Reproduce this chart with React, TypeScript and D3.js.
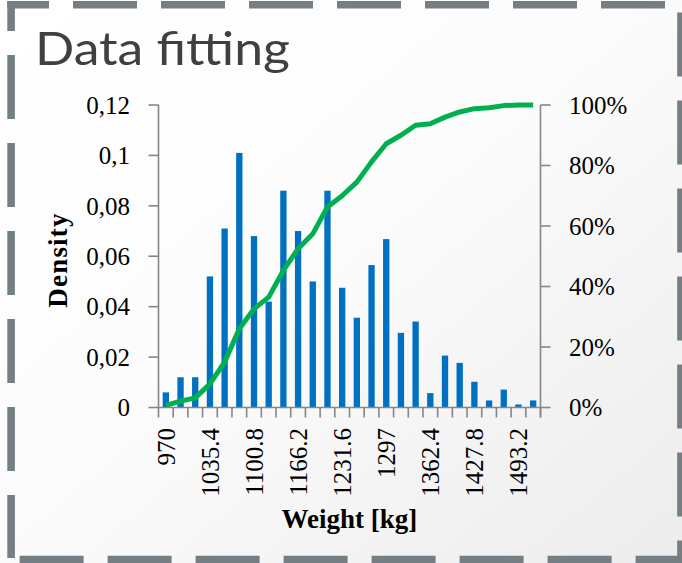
import React from 'react';
import * as d3 from 'd3';

// Bin starts (kg) — every third one is printed on the axis.
const binLabels = [
  '970', '991.8', '1013.6', '1035.4', '1057.2', '1079', '1100.8', '1122.6', '1144.4',
  '1166.2', '1188', '1209.8', '1231.6', '1253.4', '1275.2', '1297', '1318.8', '1340.6',
  '1362.4', '1384.2', '1406', '1427.8', '1449.6', '1471.4', '1493.2', '1515',
];

// Relative frequency per bin (left axis).
const density = [
  0.006, 0.012, 0.012, 0.052, 0.071, 0.101, 0.068, 0.042, 0.086, 0.070, 0.050, 0.086, 0.0475,
  0.0356, 0.0565, 0.0668, 0.0296, 0.0341, 0.0057, 0.0206, 0.0177, 0.0102, 0.0028, 0.0071,
  0.0012, 0.0028,
];

// Cumulative share (right axis), in percent.
const cumulative = [
  0.7, 2.1, 3.2, 7.8, 15, 26, 32.6, 36.5, 45.3, 52.5, 57.4, 66.3, 70, 74.5, 81.2, 87.2, 90,
  93.3, 93.8, 96, 97.7, 98.8, 99.1, 99.8, 100, 100,
];

const leftTicks = [0, 0.02, 0.04, 0.06, 0.08, 0.1, 0.12];
const leftTickLabels = ['0', '0,02', '0,04', '0,06', '0,08', '0,1', '0,12'];
const rightTicks = [0, 20, 40, 60, 80, 100];

const W = 682;
const H = 563;
const plot = { left: 158.5, right: 540.5, top: 105, bottom: 407.5 };

const AXIS = '#868686';
const BAR = '#0070C0';
const LINE = '#00B050';
const BORDER = '#757f83';
const SERIF = '"Liberation Serif", "Times New Roman", serif';

export default function App() {
  const x = d3.scaleBand<string>()
    .domain(binLabels)
    .range([plot.left, plot.right])
    .paddingInner(0.57)
    .paddingOuter(0.285);
  const yL = d3.scaleLinear().domain([0, 0.12]).range([plot.bottom, plot.top]);
  const yR = d3.scaleLinear().domain([0, 100]).range([plot.bottom, plot.top]);

  const step = x.step();
  const center = (i: number) => (x(binLabels[i]) ?? 0) + x.bandwidth() / 2;

  const line = d3.line<number>()
    .x((_, i) => center(i))
    .y((d) => yR(d));

  // tick marks at every bin boundary along the x axis
  const boundaries = d3.range(binLabels.length + 1).map((i) => plot.left + i * step);

  const dash = '64 24';

  return (
    <svg width={W} height={H} style={{ position: 'absolute', left: 0, top: 0 }}>
      <defs>
        <linearGradient id="bg" x1="0" y1="0" x2="1" y2="1">
          <stop offset="0" stopColor="#ffffff" />
          <stop offset="0.45" stopColor="#fcfcfc" />
          <stop offset="1" stopColor="#ececec" />
        </linearGradient>
      </defs>
      <rect x={0} y={0} width={W} height={H} fill="url(#bg)" />

      {/* dashed frame, each side with its own phase */}
      <g stroke={BORDER} strokeWidth={7.6} fill="none">
        <line x1={7.3} y1={4.7} x2={670} y2={4.7} strokeDasharray={dash} strokeDashoffset={22.3} />
        <line x1={11.1} y1={1} x2={11.1} y2={558} strokeDasharray={dash} strokeDashoffset={34} />
        <line x1={19.6} y1={559.5} x2={685} y2={559.5} strokeDasharray={dash} strokeDashoffset={0} />
        <line x1={681} y1={12.6} x2={681} y2={563.3} strokeDasharray={dash} strokeDashoffset={0} />
      </g>

      <text x={35} y={65} fontFamily='"Century Gothic", Lato, sans-serif'
        fontSize={46} fill="#404040" textLength={255} lengthAdjust="spacingAndGlyphs">
        Data fitting
      </text>

      {/* bars */}
      {density.map((d, i) => (
        <rect key={i} x={x(binLabels[i])} y={yL(d)} width={x.bandwidth()}
          height={plot.bottom - yL(d)} fill={BAR} />
      ))}

      {/* cumulative line */}
      <path d={line(cumulative) ?? ''} fill="none" stroke={LINE} strokeWidth={5}
        strokeLinejoin="round" />

      {/* axes */}
      <g stroke={AXIS} strokeWidth={1.6} fill="none">
        <line x1={plot.left} y1={plot.top} x2={plot.left} y2={plot.bottom} />
        <line x1={plot.right} y1={plot.top} x2={plot.right} y2={plot.bottom + 10} />
        <line x1={plot.left} y1={plot.bottom} x2={plot.right} y2={plot.bottom} />
        {leftTicks.map((t) => (
          <line key={t} x1={plot.left - 10} x2={plot.left} y1={yL(t)} y2={yL(t)} />
        ))}
        {rightTicks.map((t) => (
          <line key={t} x1={plot.right} x2={plot.right + 10} y1={yR(t)} y2={yR(t)} />
        ))}
        {boundaries.map((b, i) => (
          <line key={i} x1={b} x2={b} y1={plot.bottom} y2={plot.bottom + 10} />
        ))}
      </g>

      <g fontFamily={SERIF} fontSize={25} fill="#000">
        {leftTicks.map((t, i) => (
          <text key={t} x={130} y={yL(t)} dy="0.35em" textAnchor="end">{leftTickLabels[i]}</text>
        ))}
        {rightTicks.map((t) => (
          <text key={t} x={569} y={yR(t)} dy="0.35em">{t}%</text>
        ))}
        {binLabels.map((lab, i) => (i % 3 === 0 ? (
          <text key={lab} transform={`translate(${center(i)},428) rotate(-90)`}
            dy="0.35em" textAnchor="end">{lab}</text>
        ) : null))}
      </g>

      <text x={(plot.left + plot.right) / 2} y={528} textAnchor="middle" fontFamily={SERIF}
        fontWeight="bold" fontSize={27}>Weight [kg]</text>
      <text transform="translate(67,260) rotate(-90)" textAnchor="middle" fontFamily={SERIF}
        fontWeight="bold" fontSize={27} letterSpacing={1.2}>Density</text>
    </svg>
  );
}
